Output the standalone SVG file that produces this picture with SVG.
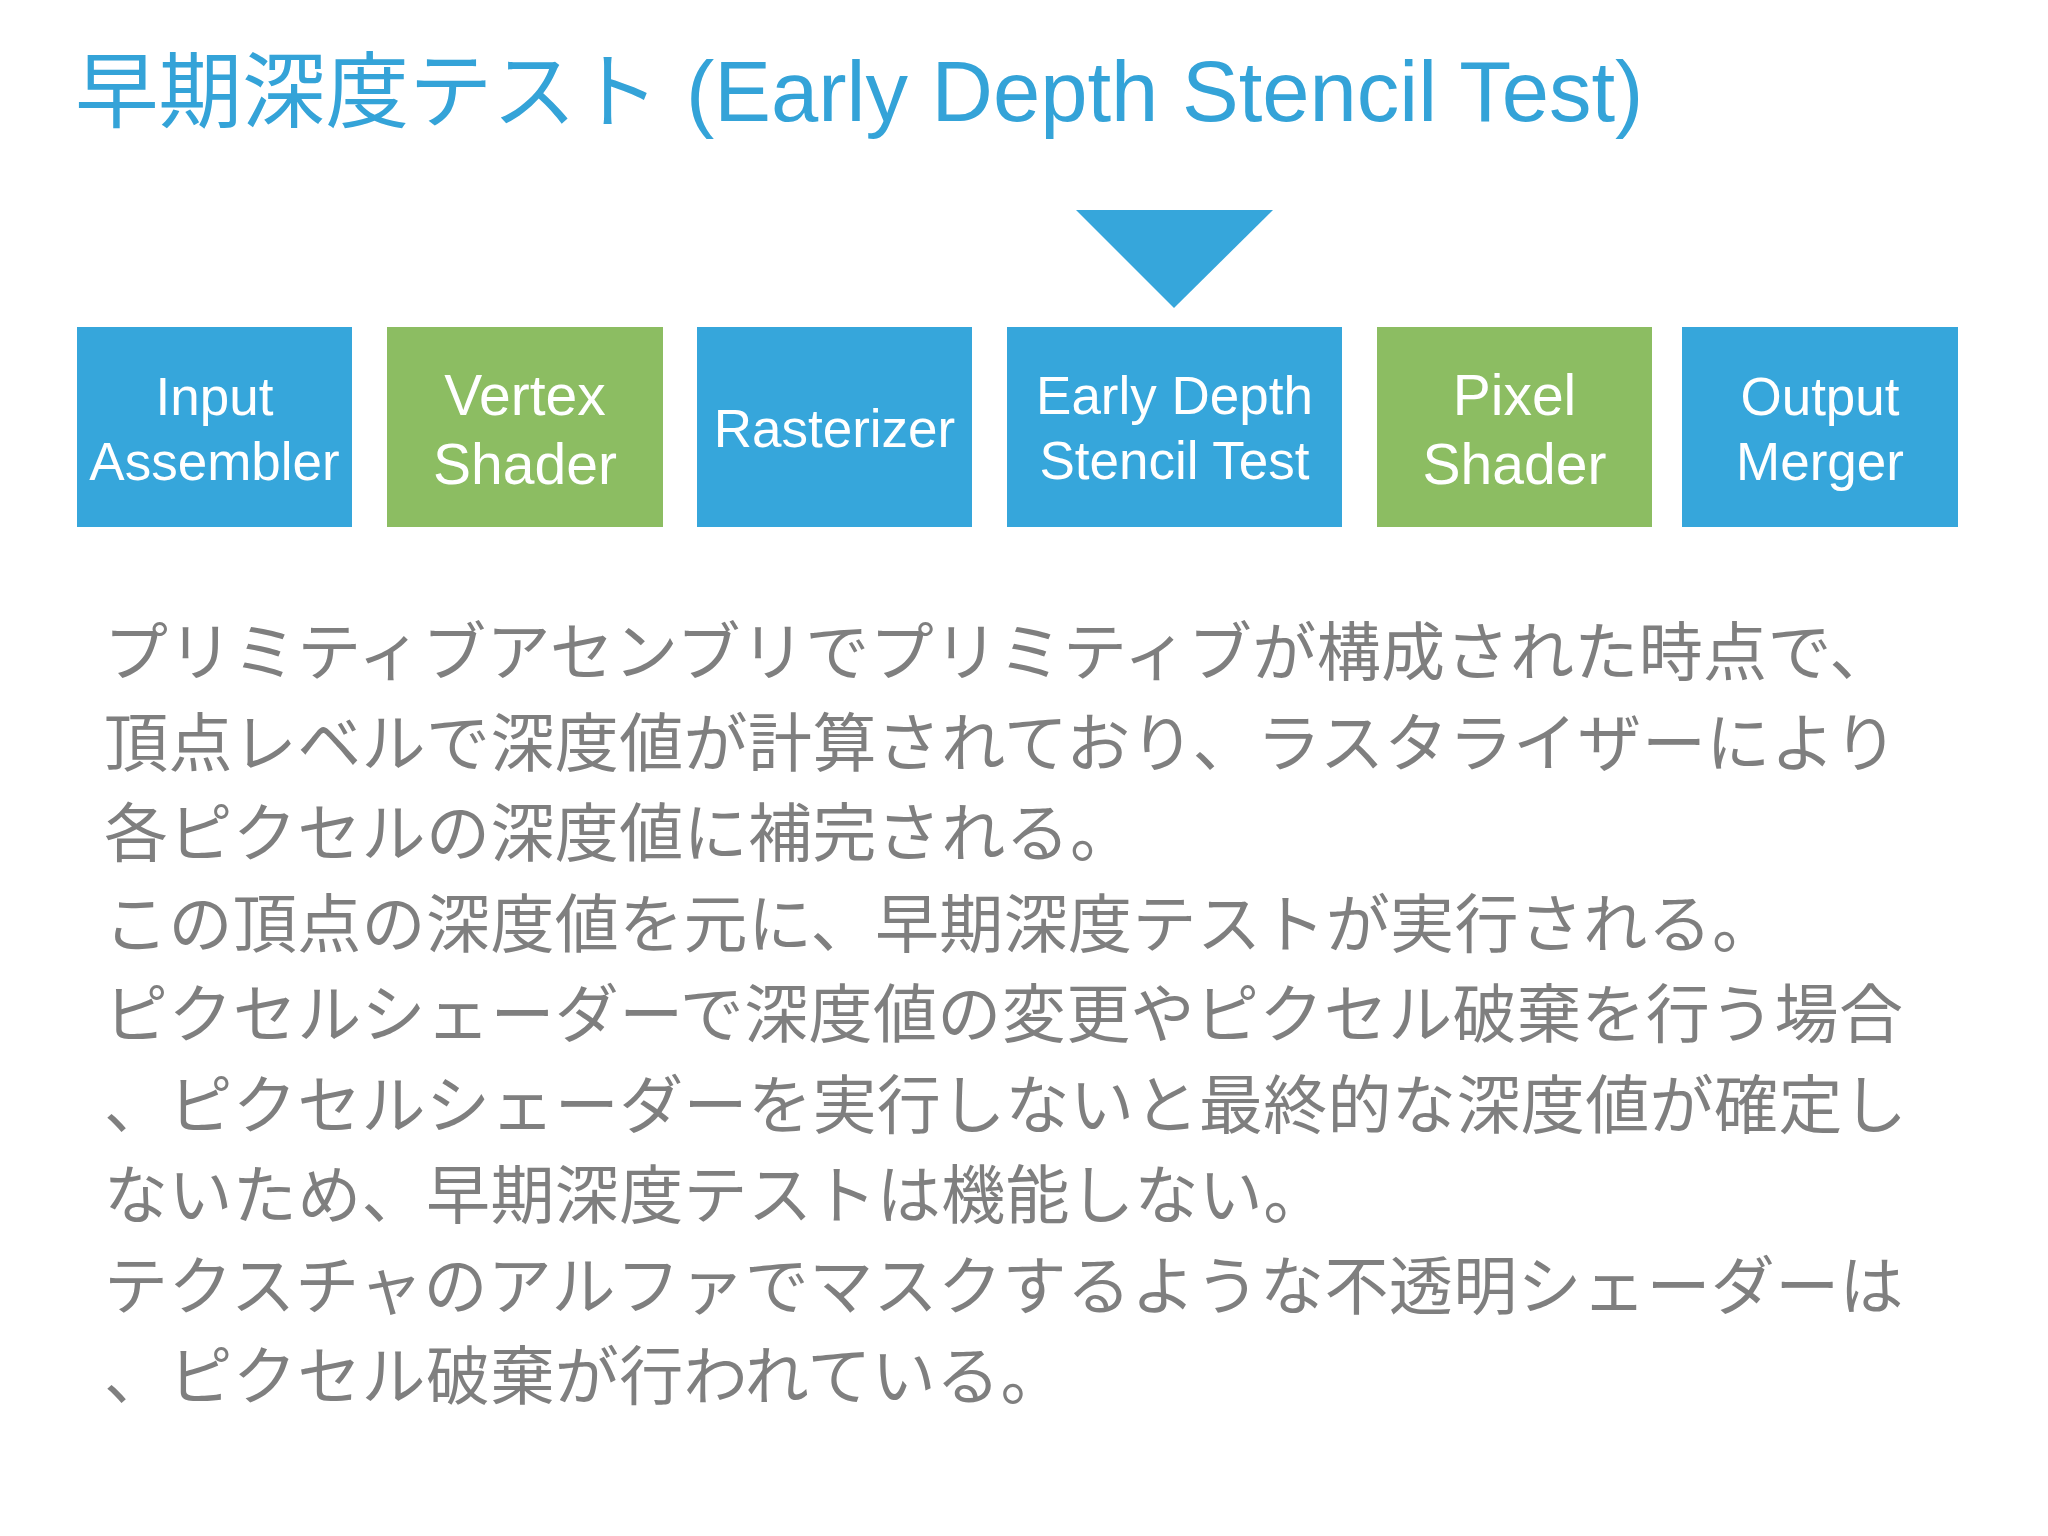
<svg xmlns="http://www.w3.org/2000/svg" width="2048" height="1536" viewBox="0 0 2048 1536">
<style>
.title{font-family:"Liberation Sans","Noto Sans CJK JP",sans-serif;fill:#34A3D8}
.box-blue{fill:#36A6DB}
.box-green{fill:#8CBD62}
.lbl{font-family:"Liberation Sans",Arial,sans-serif;fill:#FFFFFF;text-anchor:middle}
.lb{font-size:53px}
.lg{font-size:57px}
.body{font-family:"Noto Sans CJK JP",sans-serif;font-size:64px;letter-spacing:0.4px;fill:#7F7F7F}
</style>
<rect x="0" y="0" width="2048" height="1536" fill="#FFFFFF"/>
<text class="title" x="75" y="121"><tspan font-family="Noto Sans CJK JP, sans-serif" font-size="83.5">早期深度テスト</tspan><tspan x="686" font-size="85">(Early Depth Stencil Test)</tspan></text>
<g id="connectors">
<polygon points="1076,210 1273,210 1174,308" fill="#36A6DB"/>
</g>
<g id="input-assembler">
<rect class="box-blue" x="77" y="327" width="275" height="200"/>
<text class="lbl lb" x="214.5" y="415">Input</text>
<text class="lbl lb" x="214.5" y="480">Assembler</text>
</g>
<g id="vertex-shader">
<rect class="box-green" x="387" y="327" width="276" height="200"/>
<text class="lbl lg" x="525" y="415">Vertex</text>
<text class="lbl lg" x="525" y="484">Shader</text>
</g>
<g id="rasterizer">
<rect class="box-blue" x="697" y="327" width="275" height="200"/>
<text class="lbl lb" x="834.5" y="447">Rasterizer</text>
</g>
<g id="early-depth-stencil-test">
<rect class="box-blue" x="1007" y="327" width="335" height="200"/>
<text class="lbl lb" x="1174.5" y="414">Early Depth</text>
<text class="lbl lb" x="1174.5" y="479">Stencil Test</text>
</g>
<g id="pixel-shader">
<rect class="box-green" x="1377" y="327" width="275" height="200"/>
<text class="lbl lg" x="1514.5" y="415">Pixel</text>
<text class="lbl lg" x="1514.5" y="484">Shader</text>
</g>
<g id="output-merger">
<rect class="box-blue" x="1682" y="327" width="276" height="200"/>
<text class="lbl lb" x="1820" y="415">Output</text>
<text class="lbl lb" x="1820" y="480">Merger</text>
</g>
<g id="description">
<text class="body" x="104" y="675">プリミティブアセンブリでプリミティブが構成された時点で、</text>
<text class="body" x="104" y="765.5">頂点レベルで深度値が計算されており、ラスタライザーにより</text>
<text class="body" x="104" y="856">各ピクセルの深度値に補完される。</text>
<text class="body" x="104" y="946.5">この頂点の深度値を元に、早期深度テストが実行される。</text>
<text class="body" x="104" y="1037">ピクセルシェーダーで深度値の変更やピクセル破棄を行う場合</text>
<text class="body" x="104" y="1127.5">、ピクセルシェーダーを実行しないと最終的な深度値が確定し</text>
<text class="body" x="104" y="1218">ないため、早期深度テストは機能しない。</text>
<text class="body" x="104" y="1308.5">テクスチャのアルファでマスクするような不透明シェーダーは</text>
<text class="body" x="104" y="1399">、ピクセル破棄が行われている。</text>
</g>
</svg>
